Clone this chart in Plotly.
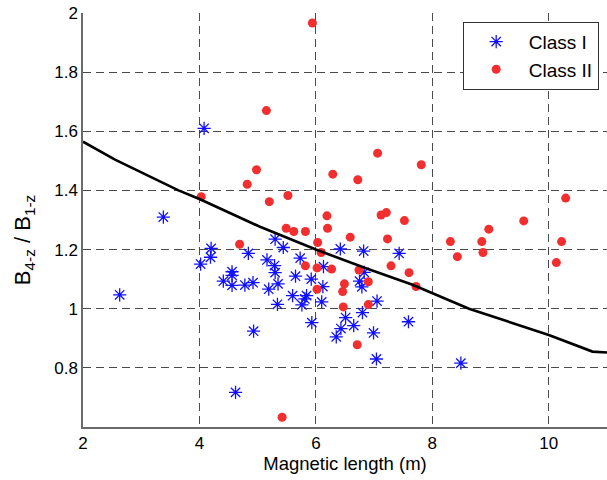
import plotly.graph_objects as go

# Class I (blue asterisks)
class1_x = [4.08, 3.38, 2.63, 4.02, 4.20, 4.19, 4.84, 4.56, 4.56, 4.41, 4.56, 4.78, 4.92,
            5.16, 5.19, 4.93, 4.62, 5.30, 5.44, 6.42, 6.82, 7.43, 5.73, 5.29, 6.13, 5.30,
            5.65, 5.92, 6.83, 6.75, 5.35, 6.79, 6.12, 5.60, 5.84, 5.81, 5.76, 6.10, 5.34,
            5.93, 6.35, 6.43, 6.51, 6.65, 6.99, 7.59, 6.80, 7.05, 7.04, 8.49]
class1_y = [1.61, 1.31, 1.047, 1.151, 1.204, 1.174, 1.187, 1.125, 1.113, 1.093, 1.079, 1.080, 1.088,
            1.165, 1.066, 0.924, 0.717, 1.235, 1.207, 1.202, 1.195, 1.187, 1.171, 1.146, 1.142, 1.122,
            1.110, 1.100, 1.123, 1.093, 1.084, 1.074, 1.075, 1.044, 1.044, 1.033, 1.013, 1.023, 1.015,
            0.953, 0.905, 0.933, 0.970, 0.943, 0.918, 0.956, 0.987, 1.026, 0.830, 0.816]

# Class II (red dots)
class2_x = [5.94, 5.15, 4.03, 4.82, 4.98, 4.69, 7.06, 7.81, 6.29, 6.72, 5.52, 5.20, 6.19, 6.20,
            7.12, 7.21, 7.52, 5.49, 5.62, 5.82, 6.03, 6.59, 7.23, 6.09, 5.82, 6.02, 6.27, 7.29,
            7.60, 7.72, 6.74, 6.90, 6.49, 6.02, 6.46, 6.47, 6.90, 6.71, 5.42, 10.29, 9.57, 8.97,
            8.31, 8.85, 10.22, 8.43, 8.87, 10.13]
class2_y = [1.966, 1.670, 1.379, 1.421, 1.470, 1.218, 1.526, 1.487, 1.455, 1.436, 1.383, 1.362, 1.314, 1.272,
            1.317, 1.325, 1.298, 1.272, 1.261, 1.261, 1.224, 1.242, 1.236, 1.190, 1.145, 1.138, 1.134, 1.145,
            1.122, 1.075, 1.131, 1.091, 1.084, 1.066, 1.058, 1.006, 1.014, 0.878, 0.633, 1.374, 1.297, 1.269,
            1.227, 1.227, 1.227, 1.176, 1.190, 1.156]

# Decision boundary
boundary_x = [2.00, 2.55, 3.64, 4.00, 5.03, 6.00, 6.86, 7.66, 8.63, 10.00, 10.75, 11.00]
boundary_y = [1.565, 1.504, 1.400, 1.371, 1.278, 1.200, 1.137, 1.081, 1.000, 0.911, 0.855, 0.852]

x_ticks = [2, 4, 6, 8, 10]
y_ticks = [0.8, 1, 1.2, 1.4, 1.6, 1.8, 2]
y_tick_text = ["0.8", "1", "1.2", "1.4", "1.6", "1.8", "2"]

FONT = "Liberation Sans, Arial, Helvetica, sans-serif"

fig = go.Figure()
fig.add_trace(go.Scatter(
    x=class1_x, y=class1_y, mode="markers", name="Class I",
    marker=dict(symbol="asterisk-open", size=11, color="#1010ff",
                line=dict(color="#1010ff", width=1.3)),
))
fig.add_trace(go.Scatter(
    x=class2_x, y=class2_y, mode="markers", name="Class II",
    marker=dict(symbol="circle", size=9, color="#f22e2e", line=dict(width=0)),
))
fig.add_trace(go.Scatter(
    x=boundary_x, y=boundary_y, mode="lines", showlegend=False,
    line=dict(color="black", width=2.6),
))

fig.update_layout(
    width=607, height=480,
    margin=dict(l=83, r=0, t=13, b=53, autoexpand=False),
    paper_bgcolor="white", plot_bgcolor="white",
    font=dict(family=FONT, size=17, color="black"),
    showlegend=True,
    legend=dict(
        x=0.7246, y=0.979, xanchor="left", yanchor="top",
        bgcolor="white", bordercolor="#333333", borderwidth=1,
        font=dict(family=FONT, size=19, color="black"),
        itemwidth=55, tracegroupgap=0,
    ),
    xaxis=dict(
        range=[2, 11], tickvals=x_ticks, ticktext=[str(v) for v in x_ticks],
        showline=True, linecolor="#6a6a6a", linewidth=1.5, mirror=False,
        showgrid=True, gridcolor="#4a4a4a", gridwidth=1, griddash="8px,5px",
        zeroline=False, ticks="", tickfont=dict(size=17),
        title=dict(text="Magnetic length (m)", font=dict(size=18.5), standoff=4),
    ),
    yaxis=dict(
        range=[0.6, 2], tickvals=y_ticks, ticktext=y_tick_text,
        showline=True, linecolor="#6a6a6a", linewidth=1.5, mirror=False,
        showgrid=True, gridcolor="#4a4a4a", gridwidth=1, griddash="8px,5px",
        zeroline=False, ticks="", tickfont=dict(size=17),
    ),
    annotations=[dict(
        text="B<sub>4-z</sub> / B<sub>1-z</sub>", textangle=-90,
        xref="paper", yref="paper", x=-0.112, y=0.452,
        xanchor="center", yanchor="middle", showarrow=False,
        font=dict(family=FONT, size=22, color="black"),
    )],
)

fig.write_html("out.html", config={"displayModeBar": False},
               post_script="document.body.style.margin='0';")
